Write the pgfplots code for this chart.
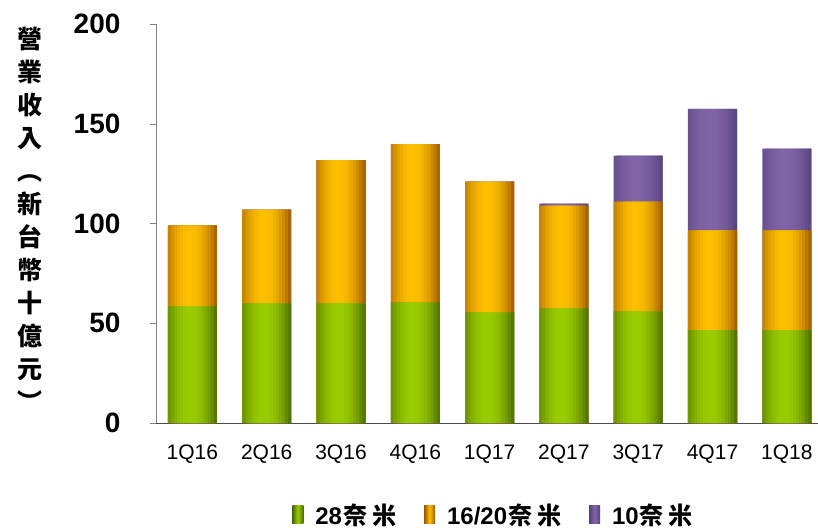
\documentclass[border=0pt]{standalone}
\usepackage{pgfplots}
\usepackage{pgfplotstable}
\pgfplotsset{compat=1.18}
\usepackage{fontspec}
\setmainfont{Liberation Sans}
\newfontfamily\cjk{Noto Sans CJK TC}

\definecolor{gbright}{HTML}{9ACD00}
\definecolor{gdark}{HTML}{4A6A00}
\definecolor{obright}{HTML}{FFC000}
\definecolor{odark}{HTML}{9C5600}
\definecolor{pbright}{HTML}{8064A6}
\definecolor{pdark}{HTML}{55427A}

% quarter, 28nm, 16/20nm, 10nm (NT$ bn)
\pgfplotstableread{
x g o p
0 58.5 40.5 0
1 60.0 47.0 0
2 60.0 71.8 0
3 60.5 79.3 0
4 55.5 65.5 0
5 57.5 51.5 1
6 56.0 55.0 23
7 46.5 50.0 61
8 46.5 50.0 41
}\revtable

\newcommand\nm{{\cjk\bfseries \kern1pt 奈\kern5pt 米}}

% one series as 16 narrow strips, for the cylinder shading;
% each strip reaches over the next one, which then covers it
% #1 bright colour, #2 dark colour, #3 y option
\newcommand\shadedbars[3]{%
  \pgfplotsinvokeforeach{0,...,15}{
    \pgfmathsetmacro\stripw{min(2*0.66/16, 0.66-##1*0.66/16)}
    \pgfmathsetmacro\stripsh{-0.33+##1*0.66/16+\stripw/2}
    \pgfmathtruncatemacro\strippc{100*(1-(((##1+0.5)/16-0.45)/0.56)^2)}
    \edef\doplot{%
      \noexpand\addplot[ybar, bar width=\stripw, bar shift=\stripsh, forget plot,
        fill=#1!\strippc!#2, draw=none]
        table[x=x, #3] {\noexpand\revtable};
    }\doplot
  }%
}

\begin{document}
\begin{tikzpicture}
\path[use as bounding box] (-156pt,-105pt) rectangle (662pt,423pt);
\begin{axis}[
  at={(0,0)}, anchor=south west,
  scale only axis, width=662pt, height=399pt,
  xmin=-0.49, xmax=8.42, ymin=0, ymax=200,
  axis lines=left, axis line style={-, draw=gray},
  x axis line style={draw=black!70},
  xtick={0,...,8},
  xticklabels={1Q16,2Q16,3Q16,4Q16,1Q17,2Q17,3Q17,4Q17,1Q18},
  ytick={0,50,100,150,200},
  tick align=outside, major tick length=6pt,
  xtick style={draw=none},
  ytick style={draw=gray},
  /pgf/number format/assume math mode=true,
  yticklabel style={font=\fontsize{28}{30}\selectfont\bfseries, xshift=-26pt},
  xticklabel style={font=\fontsize{21}{24}\selectfont, yshift=-12pt},
  legend style={at={(axis description cs:0.51,-0.23)}, anchor=center, draw=none,
    font=\fontsize{24}{26}\selectfont\bfseries,
    /tikz/every even column/.append style={column sep=26pt}},
  legend columns=-1,
  legend image code/.code={\fill[#1] (0pt,-9pt) rectangle (11pt,9pt);
    \path[draw=none, fill=none] (0pt,0pt) -- (21pt,0pt);},
]
\addlegendimage{draw=none, left color=gdark, right color=gdark, middle color=gbright}
\addlegendimage{draw=none, left color=odark, right color=odark, middle color=obright}
\addlegendimage{draw=none, left color=pdark, right color=pdark, middle color=pbright}
% drawn from the top segment down, each one over the previous
\shadedbars{pbright}{pdark}{y expr=\noexpand\thisrow{g}+\noexpand\thisrow{o}+\noexpand\thisrow{p}}
\shadedbars{obright}{odark}{y expr=\noexpand\thisrow{g}+\noexpand\thisrow{o}}
\shadedbars{gbright}{gdark}{y=g}
\legend{28\nm,16/20\nm,10\nm}
\end{axis}
\node[align=center, font=\fontsize{25}{33}\selectfont\cjk\bfseries] at (-126pt,204pt)
  {營\\業\\收\\入\\︵\\新\\台\\幣\\十\\億\\元\\︶};
\end{tikzpicture}
\end{document}
